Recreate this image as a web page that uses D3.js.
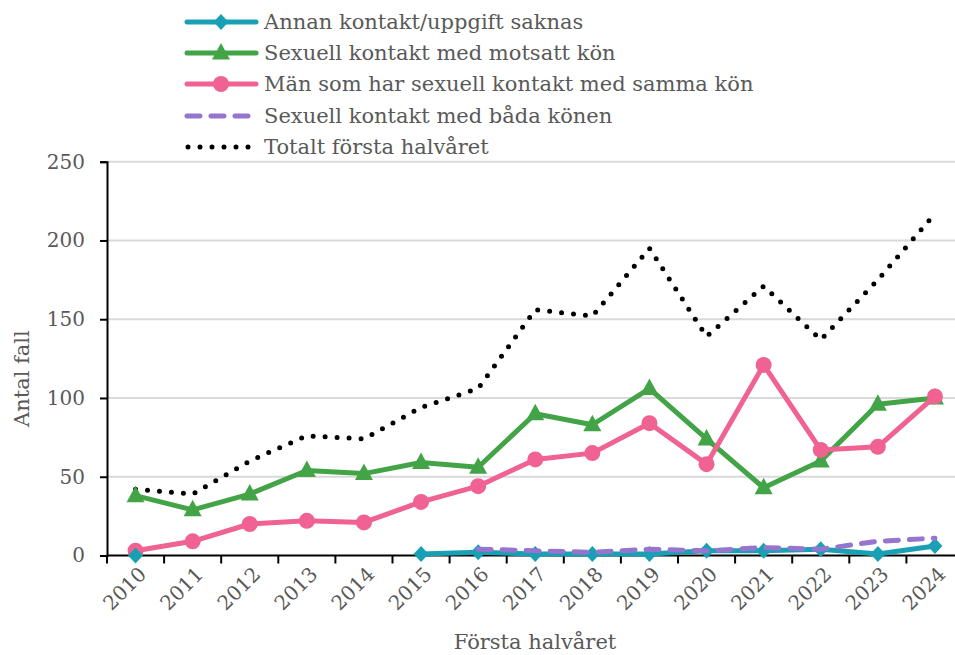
<!DOCTYPE html>
<html>
<head>
<meta charset="utf-8">
<script src="https://cdn.jsdelivr.net/npm/d3@7"></script>
<style>
  body { margin: 0; background: #fff; }
  svg { display: block; font-family: "DejaVu Serif", Georgia, serif; }
</style>
</head>
<body>
<svg id="chart" width="955" height="655"></svg>
<script>
const YEARS = ["2010", "2011", "2012", "2013", "2014", "2015", "2016", "2017",
  "2018", "2019", "2020", "2021", "2022", "2023", "2024"];

const annan = [0, null, null, null, null, 1, 2, 1, 1, 1, 3, 3, 4, 1, 6];
const motsatt = [38, 29, 39, 54, 52, 59, 56, 90, 83, 106, 74, 43, 60, 96, 100];
const samma = [3, 9, 20, 22, 21, 34, 44, 61, 65, 84, 58, 121, 67, 69, 101];
const bada = [null, null, null, null, null, null, 4, 3, 2, 4, 3, 5, 4, 9, 11];
const totalt = [42, 39, 60, 76, 74, 94, 106, 156, 152, 195, 139, 171, 137, 175, 217];

const Y_TICKS = [0, 50, 100, 150, 200, 250];

const SERIES = [
  { name: "Annan kontakt/uppgift saknas", values: annan, color: "#1aa0b4", marker: "diamond" },
  { name: "Sexuell kontakt med motsatt kön", values: motsatt, color: "#43a447", marker: "triangle" },
  { name: "Män som har sexuell kontakt med samma kön", values: samma, color: "#f06292", marker: "circle" },
  { name: "Sexuell kontakt med båda könen", values: bada, color: "#9575cd", marker: null, dash: "13 11" },
  { name: "Totalt första halvåret", values: totalt, color: "#000", marker: null, dash: "0 12", width: 5 }
];

const TEXT_COLOR = "#595959";

const svg = d3.select("#chart");
const plotLeft = 107, plotRight = 107 + 15 * 57.1, plotTop = 161.7, plotBottom = 555.5;

const x = d3.scaleBand().domain(YEARS).range([plotLeft, plotRight]);
const y = d3.scaleLinear().domain([0, 250]).range([plotBottom, plotTop]);

// grid
svg.append("g")
  .selectAll("line")
  .data(Y_TICKS.filter(d => d > 0))
  .enter()
  .append("line")
  .attr("x1", plotLeft)
  .attr("x2", 955)
  .attr("y1", d => y(d))
  .attr("y2", d => y(d))
  .attr("stroke", "#d9d9d9")
  .attr("stroke-width", 2);

// y axis
const yAxis = svg.append("g")
  .attr("transform", `translate(${plotLeft},0)`)
  .call(d3.axisLeft(y).tickValues(Y_TICKS).tickSize(7).tickPadding(15));
yAxis.select(".domain").attr("stroke", "#000").attr("stroke-width", 2);
yAxis.selectAll(".tick line").attr("stroke", "#000").attr("stroke-width", 2);
yAxis.selectAll(".tick text")
  .attr("fill", TEXT_COLOR)
  .attr("font-size", "20px")
  .attr("font-family", "DejaVu Serif, serif");

// x axis: ticks at band edges
const xAxis = svg.append("g").attr("transform", `translate(0,${plotBottom})`);
xAxis.append("line")
  .attr("x1", plotLeft)
  .attr("x2", 955)
  .attr("stroke", "#000")
  .attr("stroke-width", 2);
xAxis.selectAll(".xtick")
  .data(YEARS)
  .enter()
  .append("line")
  .attr("x1", d => x(d))
  .attr("x2", d => x(d))
  .attr("y1", 0)
  .attr("y2", 8)
  .attr("stroke", "#000")
  .attr("stroke-width", 2);
xAxis.selectAll(".xlabel")
  .data(YEARS)
  .enter()
  .append("text")
  .attr("transform", d => `translate(${x(d) + x.bandwidth() / 2 + 2},${10}) rotate(-45)`)
  .attr("text-anchor", "end")
  .attr("dy", "0.7em")
  .attr("fill", TEXT_COLOR)
  .attr("font-size", "20px")
  .text(d => d);

// axis titles
svg.append("text")
  .attr("transform", `translate(29,${(plotTop + plotBottom) / 2 + 20}) rotate(-90)`)
  .attr("text-anchor", "middle")
  .attr("fill", TEXT_COLOR)
  .attr("font-size", "21px")
  .text("Antal fall");

svg.append("text")
  .attr("x", 535)
  .attr("y", 649)
  .attr("text-anchor", "middle")
  .attr("fill", TEXT_COLOR)
  .attr("font-size", "21px")
  .text("Första halvåret");

// lines
const cx = d => x(d) + x.bandwidth() / 2;

function drawMarker(g, type, color) {
  if (type === "circle") {
    g.append("circle").attr("r", 8).attr("fill", color);
  } else if (type === "triangle") {
    g.append("path").attr("d", "M0,-10L9,6.5L-9,6.5Z").attr("fill", color);
  } else if (type === "diamond") {
    g.append("path").attr("d", "M0,-8L7.5,0L0,8L-7.5,0Z").attr("fill", color);
  }
}

const drawOrder = [SERIES[4], SERIES[1], SERIES[2], SERIES[0], SERIES[3]];

drawOrder.forEach(s => {
  const pts = YEARS.map((yr, i) => ({ yr, v: s.values[i] }));
  const line = d3.line()
    .defined(d => d.v != null)
    .x(d => cx(d.yr))
    .y(d => y(d.v));

  svg.append("path")
    .datum(pts)
    .attr("d", line)
    .attr("fill", "none")
    .attr("stroke", s.color)
    .attr("stroke-width", s.width || 5)
    .attr("stroke-linecap", "round")
    .attr("stroke-linejoin", "round")
    .attr("stroke-dasharray", s.dash || null);

  if (s.marker) {
    pts.filter(d => d.v != null).forEach(d => {
      const g = svg.append("g").attr("transform", `translate(${cx(d.yr)},${y(d.v)})`);
      drawMarker(g, s.marker, s.color);
    });
  }
});

// legend
const legendY = [22, 53, 84, 116, 147];
SERIES.forEach((s, i) => {
  const g = svg.append("g").attr("transform", `translate(0,${legendY[i]})`);
  g.append("line")
    .attr("x1", s.dash === "0 12" ? 188 : 187)
    .attr("x2", 256)
    .attr("stroke", s.color)
    .attr("stroke-width", s.width || 5)
    .attr("stroke-linecap", "round")
    .attr("stroke-dasharray", s.dash || null);
  if (s.marker) {
    const m = g.append("g").attr("transform", "translate(221,0)");
    drawMarker(m, s.marker, s.color);
  }
  g.append("text")
    .attr("x", 264)
    .attr("dy", "0.35em")
    .attr("fill", TEXT_COLOR)
    .attr("font-size", "21px")
    .text(s.name);
});
</script>
</body>
</html>
